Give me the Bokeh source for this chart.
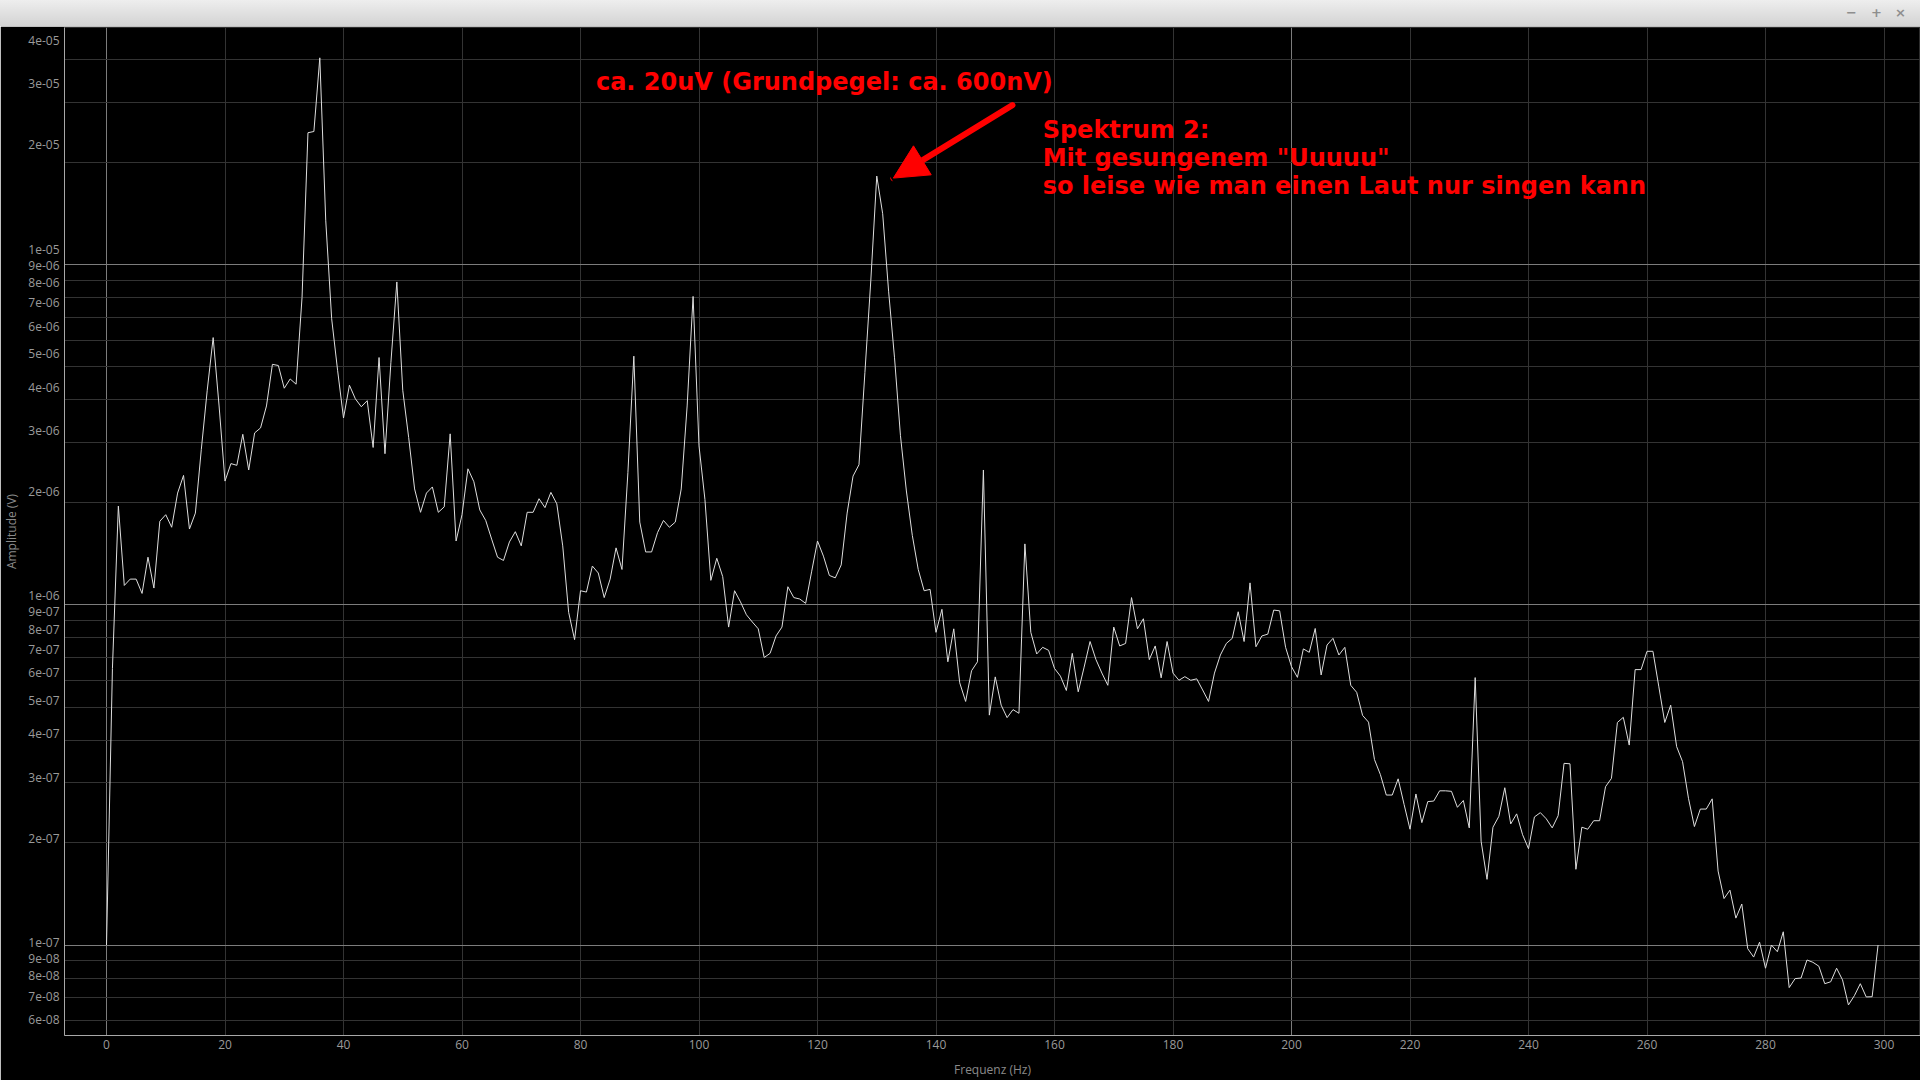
from bokeh.plotting import figure
from bokeh.models import (Range1d, LogAxis, LogScale, FixedTicker, Grid, Label, Arrow,
                          NormalHead, CustomJSTickFormatter, Div)
from bokeh.layouts import column
from bokeh.embed import file_html
from bokeh.resources import INLINE

# ---------------- data ----------------
freq_hz = list(range(0, 300))          # 1 Hz bins, 0 .. 299 Hz

amp_uv = [  # amplitude in microvolts
    0.10, 0.65, 1.95, 1.14, 1.19, 1.19, 1.08, 1.38, 1.12, 1.76,
    1.84, 1.69, 2.13, 2.40, 1.67, 1.86, 2.86, 4.27, 6.10, 3.84,
    2.31, 2.60, 2.57, 3.17, 2.49, 3.20, 3.31, 3.84, 5.09, 5.05,
    4.33, 4.61, 4.45, 8.00, 24.4, 24.6, 40.5, 13.5, 6.93, 4.89,
    3.54, 4.42, 4.03, 3.82, 3.98, 2.90, 5.33, 2.78, 5.16, 8.89,
    4.27, 3.10, 2.19, 1.87, 2.13, 2.22, 1.87, 1.94, 3.18, 1.54,
    1.84, 2.51, 2.30, 1.90, 1.77, 1.56, 1.38, 1.35, 1.53, 1.64,
    1.49, 1.87, 1.87, 2.05, 1.93, 2.14, 1.98, 1.49, 0.95, 0.79,
    1.10, 1.09, 1.30, 1.24, 1.05, 1.19, 1.47, 1.27, 2.45, 5.38,
    1.75, 1.43, 1.43, 1.63, 1.77, 1.69, 1.75, 2.19, 3.84, 8.06,
    2.93, 2.04, 1.18, 1.37, 1.21, 0.86, 1.10, 1.02, 0.935, 0.89,
    0.85, 0.70, 0.72, 0.81, 0.86, 1.13, 1.05, 1.04, 1.01, 1.25,
    1.54, 1.39, 1.22, 1.20, 1.31, 1.86, 2.39, 2.58, 4.81, 9.00,
    18.2, 14.1, 8.35, 5.32, 3.14, 2.16, 1.60, 1.27, 1.10, 1.11,
    0.83, 0.97, 0.68, 0.85, 0.59, 0.52, 0.64, 0.68, 2.49, 0.474,
    0.614, 0.507, 0.466, 0.492, 0.48, 1.51, 0.83, 0.717, 0.75, 0.735,
    0.65, 0.617, 0.56, 0.72, 0.555, 0.656, 0.78, 0.69, 0.63, 0.58,
    0.86, 0.757, 0.77, 1.05, 0.85, 0.91, 0.69, 0.757, 0.61, 0.78,
    0.63, 0.60, 0.615, 0.60, 0.606, 0.562, 0.52, 0.63, 0.712, 0.77,
    0.797, 0.954, 0.78, 1.16, 0.753, 0.81, 0.82, 0.965, 0.96, 0.75,
    0.658, 0.612, 0.742, 0.725, 0.852, 0.622, 0.762, 0.797, 0.712, 0.75,
    0.58, 0.553, 0.473, 0.452, 0.351, 0.317, 0.276, 0.276, 0.308, 0.259,
    0.219, 0.278, 0.229, 0.264, 0.265, 0.284, 0.284, 0.283, 0.254, 0.266,
    0.221, 0.611, 0.202, 0.156, 0.222, 0.239, 0.29, 0.227, 0.243, 0.211,
    0.192, 0.238, 0.245, 0.235, 0.221, 0.240, 0.342, 0.341, 0.167, 0.222,
    0.219, 0.232, 0.232, 0.292, 0.309, 0.451, 0.467, 0.387, 0.645, 0.645,
    0.73, 0.73, 0.574, 0.451, 0.507, 0.383, 0.346, 0.270, 0.223, 0.251,
    0.251, 0.269, 0.165, 0.137, 0.145, 0.12, 0.132, 0.0976, 0.0922, 0.102,
    0.0855, 0.100, 0.0956, 0.1094, 0.075, 0.0797, 0.080, 0.0904, 0.089, 0.0867,
    0.077, 0.078, 0.0855, 0.079, 0.0667, 0.071, 0.077, 0.0704, 0.0705, 0.100,
]
amp_v = [a * 1e-6 for a in amp_uv]

x_ticks = [0, 20, 40, 60, 80, 100, 120, 140, 160, 180, 200, 220, 240, 260, 280, 300]
x_ticks_bright = [0, 200]
x_ticks_faint = [t for t in x_ticks if t not in x_ticks_bright]

y_ticks_decade = [1e-07, 1e-06, 1e-05]
y_ticks_minor = [6e-08, 7e-08, 8e-08, 9e-08,
                 2e-07, 3e-07, 4e-07, 5e-07, 6e-07, 7e-07, 8e-07, 9e-07,
                 2e-06, 3e-06, 4e-06, 5e-06, 6e-06, 7e-06, 8e-06, 9e-06,
                 2e-05, 3e-05, 4e-05]
y_ticks_all = sorted(y_ticks_decade + y_ticks_minor)

note_peak = "ca. 20uV (Grundpegel: ca. 600nV)"
note_lines = ["Spektrum 2:", 'Mit gesungenem "Uuuuu"', "so leise wie man einen Laut nur singen kann"]

# ---------------- layout / styling ----------------
FONT = "Open Sans"
LABEL_COL = "#9a9a9a"
TITLE_COL = "#8a8a8a"
GRID_FAINT = "#333333"
GRID_BRIGHT = "#7c7c7c"
AXIS_COL = "#a8a8a8"
RED = "#ff0000"

p = figure(width=1920, height=1054, output_backend="svg", toolbar_location=None,
           x_range=Range1d(-7.09, 306.16), y_range=Range1d(5.423e-08, 4.973e-05),
           y_axis_type="log", y_axis_location=None,
           min_border_left=64, min_border_right=0, min_border_top=1, min_border_bottom=42,
           background_fill_color="black", border_fill_color="black",
           outline_line_color="#2e2e2e")
p.grid.visible = False

# label axis (its label positions follow the reference's slightly shifted scale)
p.extra_y_ranges = {"lbl": Range1d(5.386e-08, 4.364e-05)}
p.extra_y_scales = {"lbl": LogScale()}
yax = LogAxis(y_range_name="lbl",
              ticker=FixedTicker(ticks=y_ticks_all),
              formatter=CustomJSTickFormatter(code="""
                  const s = tick.toExponential(0).split("e");
                  const e = parseInt(s[1]);
                  const a = Math.abs(e);
                  return s[0] + "e" + (e < 0 ? "-" : "+") + (a < 10 ? "0" + a : String(a));
              """),
              axis_label="Amplitude (V)")
yax.major_tick_line_color = None
yax.minor_tick_line_color = None
yax.major_tick_out = 0
yax.major_tick_in = 0
yax.minor_tick_out = 0
yax.minor_tick_in = 0
yax.major_label_standoff = 5
yax.axis_label_standoff = 5
yax.axis_line_color = AXIS_COL
yax.major_label_text_font = FONT
yax.major_label_text_font_size = "12px"
yax.major_label_text_color = LABEL_COL
yax.axis_label_text_font = FONT
yax.axis_label_text_font_size = "12px"
yax.axis_label_text_font_style = "normal"
yax.axis_label_text_color = TITLE_COL
p.add_layout(yax, "left")

xax = p.xaxis[0]
xax.ticker = FixedTicker(ticks=x_ticks)
xax.axis_label = "Frequenz (Hz)"
xax.major_tick_line_color = None
xax.minor_tick_line_color = None
xax.major_tick_out = 0
xax.major_tick_in = 0
xax.minor_tick_out = 0
xax.minor_tick_in = 0
xax.major_label_standoff = 4
xax.axis_label_standoff = 9
xax.axis_line_color = AXIS_COL
xax.major_label_text_font = FONT
xax.major_label_text_font_size = "12px"
xax.major_label_text_color = LABEL_COL
xax.axis_label_text_font = FONT
xax.axis_label_text_font_size = "12px"
xax.axis_label_text_font_style = "normal"
xax.axis_label_text_color = TITLE_COL

# grids
p.add_layout(Grid(dimension=0, ticker=FixedTicker(ticks=x_ticks_faint),
                  grid_line_color=GRID_FAINT, grid_line_width=1))
p.add_layout(Grid(dimension=0, ticker=FixedTicker(ticks=x_ticks_bright),
                  grid_line_color=GRID_BRIGHT, grid_line_width=1))
p.add_layout(Grid(dimension=1, ticker=FixedTicker(ticks=y_ticks_minor),
                  grid_line_color=GRID_FAINT, grid_line_width=1))
p.add_layout(Grid(dimension=1, ticker=FixedTicker(ticks=y_ticks_decade),
                  grid_line_color=GRID_BRIGHT, grid_line_width=1))

# spectrum
p.line(freq_hz, amp_v, line_color="#dedede", line_width=1)

# annotations
p.add_layout(Label(x=82.6, y=3.43e-05, text=note_peak, text_color=RED,
                   text_font="DejaVu Sans", text_font_style="bold", text_font_size="24px",
                   text_baseline="middle", text_align="left"))
for txt, yv in zip(note_lines, [2.485e-05, 2.054e-05, 1.70e-05]):
    p.add_layout(Label(x=158.0, y=yv, text=txt, text_color=RED,
                       text_font="DejaVu Sans", text_font_style="bold", text_font_size="24px",
                       text_baseline="middle", text_align="left"))
p.add_layout(Arrow(end=NormalHead(size=34, fill_color=RED, line_color=RED, line_width=1),
                   x_start=152.9, y_start=2.94e-05, x_end=132.8, y_end=1.795e-05,
                   line_color=RED, line_width=6, line_cap="round"))

# window title bar
bar_html = ('<div style="position:relative;width:1920px;height:26px;'
            'font-family:\'DejaVu Sans\';font-weight:bold;font-size:13px;line-height:26px;color:#8e8e8e;">'
            '<span style="position:absolute;left:1846px;top:0px;">&#8722;</span>'
            '<span style="position:absolute;left:1871px;top:0px;">+</span>'
            '<span style="position:absolute;left:1895px;top:0px;">&#215;</span></div>')
bar = Div(text=bar_html, width=1920, height=26,
          styles={"background": "linear-gradient(#eeeeee, #d3d3d3)",
                  "margin": "0px", "padding": "0px"})

layout = column(bar, p, spacing=0)
open("out.html", "w").write(file_html(layout, INLINE))
